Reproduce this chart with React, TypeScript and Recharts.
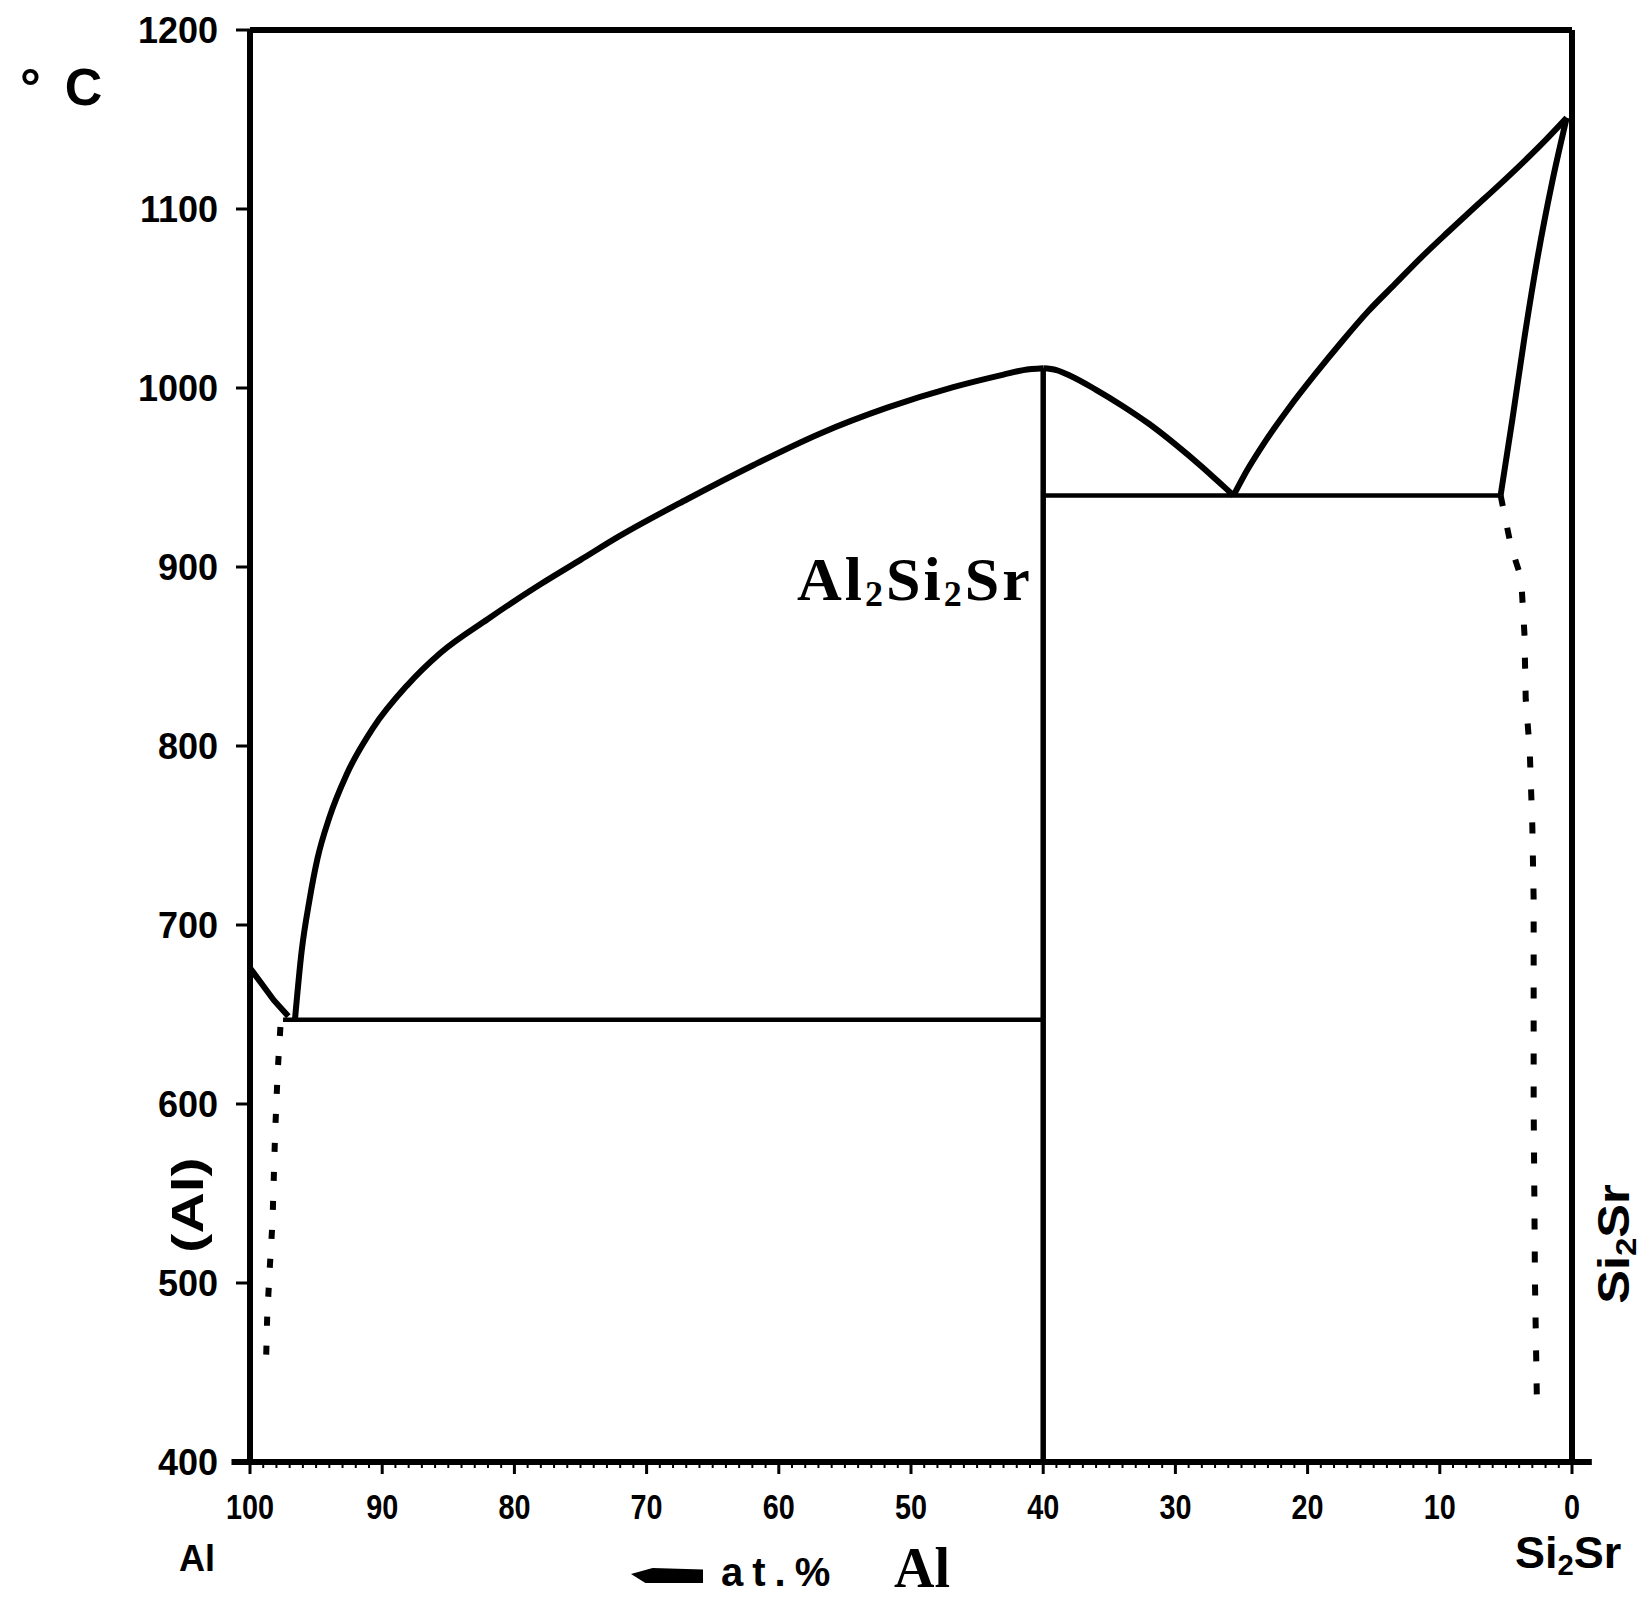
import React from "react";
import { LineChart, Line, XAxis, YAxis, ReferenceLine } from "recharts";

// composition c = at.% Al (100 = Al, 0 = Si2Sr), t = temperature in °C
const alLiquidus = [
  { c: 100, t: 676 }, { c: 99.2, t: 668 }, { c: 98.2, t: 658 }, { c: 97.1, t: 649 },
];
const alEutectic = [{ c: 97.5, t: 647 }, { c: 40, t: 647 }];
const mainLiquidus = [
  { c: 96.6, t: 647 }, { c: 96.1, t: 685 }, { c: 95.5, t: 714 }, { c: 94.9, t: 737 },
  { c: 94.0, t: 760 }, { c: 92.7, t: 784 }, { c: 90.7, t: 810 }, { c: 88.1, t: 834 },
  { c: 85.6, t: 852 }, { c: 82.0, t: 871 }, { c: 78.0, t: 890.5 }, { c: 75.0, t: 904 },
  { c: 72.0, t: 917.5 }, { c: 66.9, t: 938 }, { c: 61.9, t: 957 }, { c: 56.9, t: 974.5 },
  { c: 51.8, t: 989 }, { c: 46.8, t: 1000.5 }, { c: 43.0, t: 1007.5 }, { c: 41.5, t: 1010 },
  { c: 40, t: 1011 },
];
const midLiquidus = [
  { c: 40, t: 1011 }, { c: 39, t: 1010 }, { c: 38, t: 1007 }, { c: 36, t: 999 },
  { c: 34, t: 990 }, { c: 32, t: 980 }, { c: 30, t: 968.5 }, { c: 28, t: 956 },
  { c: 26.8, t: 948 }, { c: 25.6, t: 940 },
];
const rightLiquidus = [
  { c: 25.6, t: 940 }, { c: 24.5, t: 955 }, { c: 23.4, t: 968 }, { c: 21.4, t: 989 },
  { c: 19.4, t: 1008 }, { c: 17.4, t: 1026 }, { c: 15.4, t: 1043 }, { c: 13.4, t: 1058 },
  { c: 11.4, t: 1073 }, { c: 9.4, t: 1087 }, { c: 7.5, t: 1100 }, { c: 5.5, t: 1113.5 },
  { c: 3.5, t: 1127.5 }, { c: 2.0, t: 1138.5 }, { c: 0.4, t: 1151 },
];
const compoundLine = [{ c: 40, t: 1011 }, { c: 40, t: 400 }];
const siEutectic = [{ c: 40, t: 940 }, { c: 5.4, t: 940 }];
const si2SrSolidus = [
  { c: 5.4, t: 940 }, { c: 4.5, t: 983 }, { c: 3.6, t: 1028 }, { c: 2.6, t: 1073 },
  { c: 1.5, t: 1115 }, { c: 0.4, t: 1151 },
];
const si2SrSolvus = [
  { c: 5.4, t: 940 }, { c: 4.6, t: 911 }, { c: 3.85, t: 894 }, { c: 3.6, t: 863 },
  { c: 3.5, t: 826 }, { c: 3.2, t: 798 }, { c: 3.0, t: 755 }, { c: 2.9, t: 714 },
  { c: 2.9, t: 650 }, { c: 2.9, t: 600 }, { c: 2.8, t: 500 }, { c: 2.65, t: 432 },
];
const alSolvus = [
  { c: 97.7, t: 643 }, { c: 97.9, t: 619 }, { c: 98.1, t: 584 }, { c: 98.3, t: 534 },
  { c: 98.5, t: 509 }, { c: 98.7, t: 481 }, { c: 98.8, t: 452 },
];

const yTicks = [400, 500, 600, 700, 800, 900, 1000, 1100, 1200];
const xMajorTicks = [100, 90, 80, 70, 60, 50, 40, 30, 20, 10, 0];
const xMinorTicks = Array.from({ length: 101 }, (_, i) => i);

const SANS = "'Liberation Sans', Arial, sans-serif";
const SERIF = "'Liberation Serif', 'Times New Roman', serif";

function XTick(props: any) {
  const { x, y, payload } = props;
  const v = payload.value;
  const major = xMajorTicks.includes(v);
  return (
    <g>
      <line x1={x} y1={y} x2={x} y2={y + (major ? 12 : 6)} stroke="#000" strokeWidth={major ? 3 : 2} />
      {major ? (
        <text
          transform={`translate(${x},${y + 57}) scale(0.8,1)`}
          textAnchor="middle"
          fontSize={36}
          fontWeight="bold"
          fontFamily={SANS}
          fill="#000"
        >
          {v}
        </text>
      ) : null}
    </g>
  );
}

const abs = (left: number, top: number, extra: React.CSSProperties = {}): React.CSSProperties => ({
  position: "absolute",
  left,
  top,
  lineHeight: 1,
  whiteSpace: "nowrap",
  color: "#000",
  ...extra,
});

export default function App() {
  const solid = (data: any[], w: number, type: any, key: string) => (
    <Line
      key={key}
      data={data}
      dataKey="t"
      type={type}
      stroke="#000"
      strokeWidth={w}
      dot={false}
      activeDot={false}
      isAnimationActive={false}
    />
  );
  const dotted = (data: any[], dash: string, key: string) => (
    <Line
      key={key}
      data={data}
      dataKey="t"
      type="linear"
      stroke="#000"
      strokeWidth={6}
      strokeDasharray={dash}
      dot={false}
      activeDot={false}
      isAnimationActive={false}
    />
  );
  return (
    <div style={{ position: "absolute", left: 0, top: 0, width: 1650, height: 1597, background: "#fff", fontFamily: SANS }}>
      <LineChart width={1650} height={1597} margin={{ top: 30, right: 78, bottom: 75, left: 50 }}>
        <XAxis
          dataKey="c"
          type="number"
          domain={[0, 100]}
          reversed
          ticks={xMinorTicks}
          interval={0}
          tickSize={0}
          tickMargin={0}
          tickLine={false}
          axisLine={false}
          height={60}
          tick={XTick}
        />
        <YAxis
          type="number"
          domain={[400, 1200]}
          ticks={yTicks}
          interval={0}
          width={200}
          tickSize={14}
          tickMargin={18}
          axisLine={{ stroke: "#000", strokeWidth: 6 }}
          tickLine={{ stroke: "#000", strokeWidth: 3 }}
          tick={{ fill: "#000", fontSize: 36, fontWeight: "bold", fontFamily: SANS }}
        />
        <ReferenceLine y={1200} stroke="#000" strokeWidth={6} />
        <ReferenceLine x={0} stroke="#000" strokeWidth={6} />
        <ReferenceLine
          segment={[{ x: 101.4, y: 400 }, { x: -1.5, y: 400 }]}
          ifOverflow="visible"
          stroke="#000"
          strokeWidth={6}
        />
        {solid(alLiquidus, 6, "linear", "a1")}
        {solid(alEutectic, 4.5, "linear", "a2")}
        {solid(mainLiquidus, 6, "monotone", "a3")}
        {solid(midLiquidus, 6, "monotone", "a4")}
        {solid(rightLiquidus, 6, "monotone", "a5")}
        {solid(compoundLine, 5.5, "linear", "a6")}
        {solid(siEutectic, 4.5, "linear", "a7")}
        {solid(si2SrSolidus, 6, "monotone", "a8")}
        {dotted(si2SrSolvus, "11 22", "d1")}
        {dotted(alSolvus, "9 20", "d2")}
      </LineChart>

      {/* axis unit */}
      <div style={abs(20, 61, { fontSize: 52, fontWeight: "bold" })}>
        <span>°</span>
        <span style={{ marginLeft: 24 }}>C</span>
      </div>

      {/* phase labels */}
      <div style={abs(797, 548, { fontSize: 62, fontWeight: "bold", fontFamily: SERIF, letterSpacing: 3 })}>
        Al<sub style={{ fontSize: "0.58em", verticalAlign: "-0.18em" }}>2</sub>Si
        <sub style={{ fontSize: "0.58em", verticalAlign: "-0.18em" }}>2</sub>Sr
      </div>
      <div
        style={abs(188, 1205, {
          fontSize: 44,
          fontWeight: "bold",
          transform: "translate(-50%, -50%) rotate(-90deg) scaleX(1.3)",
        })}
      >
        (Al)
      </div>
      <div
        style={abs(1616, 1244, {
          fontSize: 44,
          fontWeight: "bold",
          transform: "translate(-50%, -50%) rotate(-90deg) scaleX(1.15)",
        })}
      >
        Si<sub style={{ fontSize: "0.65em", verticalAlign: "-0.25em" }}>2</sub>Sr
      </div>

      {/* composition axis labels */}
      <div style={abs(179, 1541, { fontSize: 36, fontWeight: "bold" })}>Al</div>
      <div style={abs(1515, 1530, { fontSize: 45, fontWeight: "bold" })}>
        Si<sub style={{ fontSize: "0.65em", verticalAlign: "-0.25em" }}>2</sub>Sr
      </div>
      <div
        style={{
          position: "absolute",
          left: 631,
          top: 1568,
          width: 72,
          height: 15,
          background: "#000",
          clipPath: "polygon(0 40%, 30% 0, 100% 10%, 100% 100%, 20% 100%)",
        }}
      />
      <div style={abs(721, 1552, { fontSize: 40, fontWeight: "bold", letterSpacing: 9 })}>at.%</div>
      <div style={abs(894, 1540, { fontSize: 56, fontWeight: "bold", fontFamily: SERIF })}>Al</div>
    </div>
  );
}
